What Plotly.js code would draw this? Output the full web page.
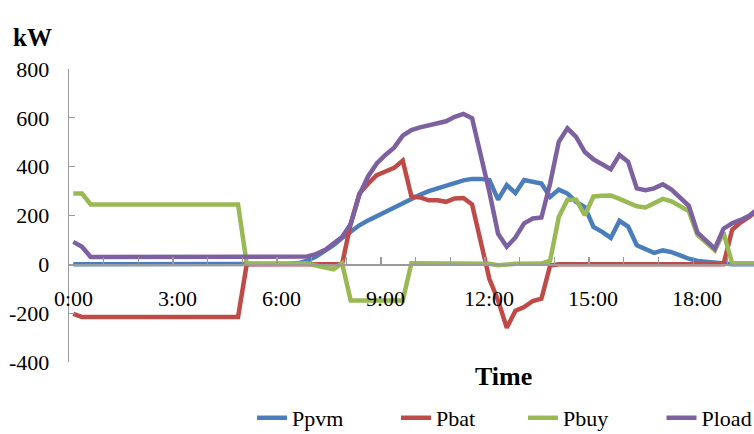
<!DOCTYPE html>
<html>
<head>
<meta charset="utf-8">
<script src="https://cdn.plot.ly/plotly-3.0.1.min.js"></script>
<style>html,body{margin:0;padding:0;background:#fff;}#chart{width:754px;height:434px;}</style>
</head>
<body>
<div id="chart"></div>
<script>
// 15-minute samples starting at 0:00
const ppvm = [0,0,0,0,0,0,0,0,0,0,0,0,0,0,0,0,0,0,0,0,0,0,0,0,0,
  2,5,15,32,55,78,108,135,160,180,198,215,232,250,268,285,300,312,322,334,344,350,350,345,265,
  325,292,345,338,331,276,306,290,256,235,153,133,108,178,155,78,64,47,57,50,37,23,14,10,7,3,0,0,0,0];
const pbat = [-203,-216,-216,-216,-216,-216,-216,-216,-216,-216,-216,-216,-216,-216,-216,-216,-216,-216,-216,-216,
  0,0,0,0,0,0,0,0,0,0,0,0,
  167,290,330,365,380,395,425,278,274,262,262,256,270,272,245,100,-60,-148,-260,-190,-175,-150,-141,-5,
  0,0,0,0,0,0,0,0,0,0,0,0,0,0,0,0,0,0,0,0,
  142,172,195,225];
const pbuy = [290,290,245,245,245,245,245,245,245,245,245,245,245,245,245,245,245,245,245,245,
  3,3,3,3,3,3,3,3,-5,-13,-21,4,
  -148,-148,-148,-148,-148,-148,-148,
  4,4,4,4,4,4,4,4,4,2,-4,1,2,2,2,3,15,194,265,265,201,278,281,282,268,252,238,233,250,268,258,238,218,120,88,57,130,4,4,4,4];
const pload = [92,72,30,30,30,30,30,30,30,30,30,30,30,30,30,30,30,30,30,30,
  28,28,28,28,28,28,28,32,42,58,85,112,165,285,360,413,448,478,527,550,561,568,578,586,604,616,598,452,295,125,
  72,110,168,188,192,331,502,557,522,460,430,410,390,448,420,311,304,311,328,306,275,240,130,98,64,146,168,182,200,228];
const hours = ppvm.map((_, i) => i / 4);
const tickHours = [0, 3, 6, 9, 12, 15, 18];
const tickLabels = ["0:00", "3:00", "6:00", "9:00", "12:00", "15:00", "18:00"];
const hourMarks = [0,1,2,3,4,5,6,7,8,9,10,11,12,13,14,15,16,17,18,19];
const yTicks = [-400, -200, 0, 200, 400, 600, 800];
const yTickLabels = ["-400", "-200", "0", "200", "400", "600", "800"];
const seriesNames = ["Ppvm", "Pbat", "Pbuy", "Pload"];
const seriesColors = ["#4A7EBB", "#BE4B48", "#98B954", "#7D60A0"];
const seriesData = [ppvm, pbat, pbuy, pload];

const FONT = "Liberation Serif, Times New Roman, serif";
const legendIds = ["legend", "legend2", "legend3", "legend4"];
const legendX = [0.2672, 0.4774, 0.6628, 0.865];

const traces = seriesData.map((d, k) => ({
  x: hours, y: d, type: "scatter", mode: "lines", name: seriesNames[k],
  legend: legendIds[k],
  line: {color: seriesColors[k], width: 4.5}
}));

const annotations = [
  {text: "<b>kW</b>", xref: "paper", yref: "paper", x: -0.0526, y: 1.106,
   xanchor: "center", yanchor: "middle", showarrow: false,
   font: {family: FONT, size: 25, color: "#000"}},
  {text: "<b>Time</b>", xref: "paper", yref: "paper", x: 0.635, y: -0.051,
   xanchor: "center", yanchor: "middle", showarrow: false,
   font: {family: FONT, size: 26, color: "#000"}}
];
tickHours.forEach((h, k) => {
  annotations.push({text: tickLabels[k], xref: "x", yref: "y", x: h, y: 0, yshift: -34,
    xanchor: "center", yanchor: "middle", showarrow: false,
    font: {family: FONT, size: 22, color: "#000"}});
});

const layout = {
  width: 754, height: 434,
  margin: {l: 69, r: 0, t: 69, b: 72, autoexpand: false},
  paper_bgcolor: "#fff", plot_bgcolor: "#fff",
  font: {family: FONT, size: 22, color: "#000"},
  showlegend: true,
  xaxis: {
    range: [-0.125, 19.63], anchor: "free", position: 1/3,
    showgrid: false, zeroline: false, showline: true, linecolor: "#9a9a9a", linewidth: 1.3,
    tickmode: "array", tickvals: hourMarks.map(h => h - 0.125), showticklabels: false,
    ticks: "inside", ticklen: 7, tickcolor: "#9a9a9a", tickwidth: 1.3
  },
  yaxis: {
    range: [-400, 800], tickmode: "array", tickvals: yTicks, ticktext: yTickLabels,
    showgrid: false, zeroline: false, showline: true, linecolor: "#9a9a9a", linewidth: 1.3,
    ticks: "inside", ticklen: 6, tickcolor: "#9a9a9a", tickwidth: 1.3,
    ticklabelstandoff: 14, tickfont: {family: FONT, size: 22, color: "#000"}
  },
  annotations: annotations
};
legendIds.forEach((id, k) => {
  layout[id] = {orientation: "h", x: legendX[k], y: -0.191, xanchor: "left", yanchor: "middle",
    font: {family: FONT, size: 22, color: "#000"}, bgcolor: "rgba(0,0,0,0)", borderwidth: 0};
});

Plotly.newPlot("chart", traces, layout, {displayModeBar: false, staticPlot: true});
</script>
</body>
</html>
